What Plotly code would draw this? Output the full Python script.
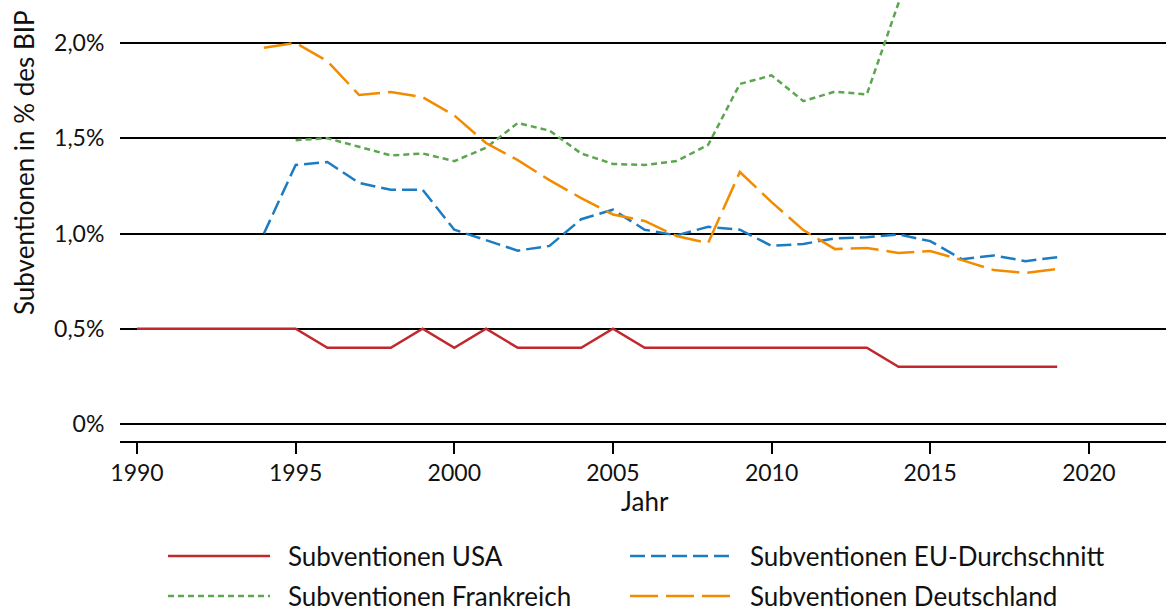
import plotly.graph_objects as go

years_usa = list(range(1990, 2020))
usa = [0.5, 0.5, 0.5, 0.5, 0.5, 0.5, 0.4, 0.4, 0.4, 0.5, 0.4, 0.5, 0.4, 0.4, 0.4, 0.5,
       0.4, 0.4, 0.4, 0.4, 0.4, 0.4, 0.4, 0.4, 0.3, 0.3, 0.3, 0.3, 0.3, 0.3]

years_eu = list(range(1994, 2020))
eu = [1.0, 1.36, 1.375, 1.265, 1.23, 1.23, 1.02, 0.965, 0.91, 0.935, 1.075, 1.125,
      1.02, 0.99, 1.035, 1.02, 0.935, 0.945, 0.975, 0.98, 0.995, 0.96, 0.865, 0.885,
      0.855, 0.875]

years_fr = list(range(1995, 2016))
fr = [1.49, 1.50, 1.455, 1.41, 1.42, 1.38, 1.45, 1.58, 1.54, 1.42, 1.365, 1.36,
      1.38, 1.465, 1.785, 1.83, 1.695, 1.745, 1.73, 2.21, 2.75]

years_de = list(range(1994, 2020))
de = [1.975, 2.0, 1.905, 1.727, 1.743, 1.716, 1.62, 1.475, 1.385, 1.28, 1.186, 1.10,
      1.066, 0.987, 0.95, 1.323, 1.165, 1.018, 0.918, 0.924, 0.898, 0.908, 0.86, 0.808,
      0.793, 0.814]

y_ticks = [0, 0.5, 1.0, 1.5, 2.0]
y_tick_labels = ["0%", "0,5%", "1,0%", "1,5%", "2,0%"]
x_ticks = [1990, 1995, 2000, 2005, 2010, 2015, 2020]

names = ["Subventionen USA", "Subventionen EU-Durchschnitt",
         "Subventionen Frankreich", "Subventionen Deutschland"]
colors = ["#c1272d", "#1c7cc1", "#5ba64f", "#f38b00"]
dashes = ["solid", "15px,6px", "6px,4px", "28px,8px"]

FONT = "Lato"
TXT = "#111111"
fig = go.Figure()
series = [(years_usa, usa), (years_eu, eu), (years_fr, fr), (years_de, de)]
for (xs, ys), n, c, d in zip(series, names, colors, dashes):
    fig.add_trace(go.Scatter(x=xs, y=ys, mode="lines", name=n,
                             line=dict(color=c, width=2.5, dash=d),
                             showlegend=False))

# helpers: pixel -> paper coordinates (plot area 120..1166 x 0..441)
W, H = 1046.0, 441.0
def px_x(p):
    return (p - 120) / W
def px_y(p):
    return (441 - p) / H

# custom legend (2 columns x 2 rows)
legend_pos = [(168, 556), (630, 556), (168, 596), (630, 596)]
for (lx, ly), n, c, d in zip(legend_pos, names, colors, dashes):
    fig.add_shape(type="line", xref="paper", yref="paper",
                  x0=px_x(lx), x1=px_x(lx + 102), y0=px_y(ly), y1=px_y(ly),
                  line=dict(color=c, width=2.5, dash=d))
    fig.add_annotation(xref="paper", yref="paper", x=px_x(lx + 118), y=px_y(ly),
                       text=n, showarrow=False, xanchor="left", yanchor="middle",
                       font=dict(family=FONT, size=26, color=TXT))

# axis titles
fig.add_annotation(xref="paper", yref="paper", x=px_x(24), y=px_y(163),
                   text="Subventionen in % des BIP", textangle=-90, showarrow=False,
                   xanchor="center", yanchor="middle",
                   font=dict(family=FONT, size=26, color=TXT))
fig.add_annotation(xref="paper", yref="paper", x=px_x(645), y=px_y(501),
                   text="Jahr", showarrow=False, xanchor="center", yanchor="middle",
                   font=dict(family=FONT, size=26, color=TXT))

fig.update_layout(
    width=1166, height=612,
    margin=dict(l=120, r=0, t=0, b=171, autoexpand=False),
    paper_bgcolor="white", plot_bgcolor="white",
    font=dict(family=FONT, size=23, color=TXT),
    xaxis=dict(range=[1989.464, 2022.43], tickvals=x_ticks, showgrid=False,
               zeroline=False, showline=True, linecolor="black", linewidth=1.5,
               ticks="outside", ticklen=11, tickwidth=1.5, tickcolor="black",
               automargin=False, tickfont=dict(family=FONT, size=23)),
    yaxis=dict(range=[-0.0892, 2.2257], tickvals=y_ticks, ticktext=y_tick_labels,
               showgrid=True, gridcolor="black", gridwidth=1.5, zeroline=False,
               showline=False, ticks="outside", ticklen=10,
               tickcolor="rgba(0,0,0,0)", automargin=False,
               tickfont=dict(family=FONT, size=23)),
)

fig.write_html("out.html", config={"displayModeBar": False},
               post_script="document.body.style.margin='0';")
